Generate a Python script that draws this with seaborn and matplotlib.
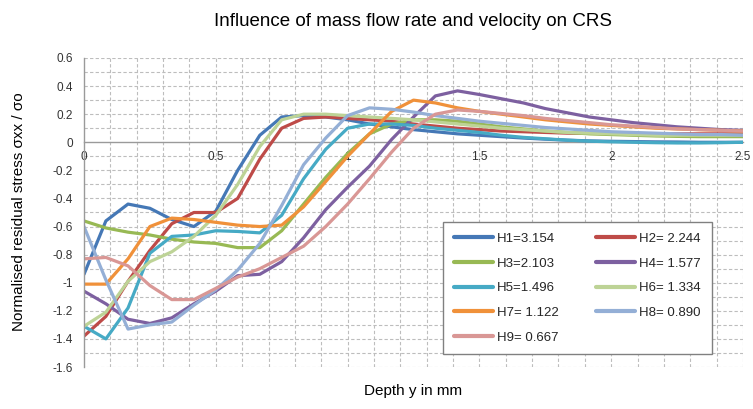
import matplotlib
matplotlib.use("Agg")
import matplotlib.pyplot as plt
import seaborn as sns
import pandas as pd
import numpy as np

depth = [0.0, 0.083, 0.167, 0.25, 0.333, 0.417, 0.5, 0.583, 0.667, 0.75,
         0.833, 0.917, 1.0, 1.083, 1.167, 1.25, 1.333, 1.417, 1.5, 1.583,
         1.667, 1.75, 1.833, 1.917, 2.0, 2.083, 2.167, 2.25, 2.333, 2.417, 2.5]

H1 = [-0.94, -0.56, -0.44, -0.47, -0.55, -0.60, -0.49, -0.20, 0.05, 0.18,
      0.19, 0.18, 0.16, 0.13, 0.11, 0.09, 0.075, 0.06, 0.05, 0.04,
      0.03, 0.022, 0.015, 0.01, 0.007, 0.005, 0.003, 0.002, 0.0, 0.0, 0.0]
H2 = [-1.38, -1.24, -0.99, -0.77, -0.58, -0.50, -0.50, -0.40, -0.12, 0.10,
      0.17, 0.18, 0.17, 0.16, 0.15, 0.13, 0.115, 0.10, 0.09, 0.08,
      0.075, 0.07, 0.065, 0.063, 0.062, 0.061, 0.06, 0.06, 0.06, 0.06, 0.06]
H3 = [-0.56, -0.61, -0.64, -0.66, -0.69, -0.71, -0.72, -0.75, -0.75, -0.63,
      -0.44, -0.25, -0.08, 0.06, 0.13, 0.16, 0.16, 0.15, 0.13, 0.11,
      0.095, 0.08, 0.07, 0.06, 0.055, 0.05, 0.045, 0.042, 0.04, 0.04, 0.04]
H4 = [-1.06, -1.15, -1.26, -1.29, -1.25, -1.15, -1.06, -0.95, -0.94, -0.85,
      -0.68, -0.48, -0.32, -0.17, 0.02, 0.18, 0.33, 0.366, 0.34, 0.31,
      0.28, 0.24, 0.21, 0.18, 0.16, 0.14, 0.125, 0.11, 0.10, 0.09, 0.085]
H5 = [-1.31, -1.40, -1.18, -0.79, -0.67, -0.66, -0.63, -0.635, -0.645, -0.52,
      -0.26, -0.05, 0.10, 0.13, 0.13, 0.12, 0.10, 0.085, 0.07, 0.05,
      0.035, 0.025, 0.015, 0.008, 0.003, 0.0, -0.003, -0.005, -0.005, -0.003, 0.0]
H6 = [-1.31, -1.21, -0.99, -0.85, -0.78, -0.67, -0.52, -0.30, -0.03, 0.16,
      0.20, 0.20, 0.19, 0.18, 0.17, 0.16, 0.145, 0.13, 0.115, 0.10,
      0.09, 0.08, 0.07, 0.065, 0.06, 0.055, 0.05, 0.05, 0.05, 0.05, 0.05]
H7 = [-1.01, -1.01, -0.83, -0.60, -0.54, -0.55, -0.57, -0.59, -0.60, -0.59,
      -0.46, -0.28, -0.10, 0.06, 0.22, 0.30, 0.28, 0.245, 0.22, 0.20,
      0.18, 0.16, 0.145, 0.13, 0.12, 0.11, 0.10, 0.095, 0.09, 0.085, 0.08]
H8 = [-0.60, -0.98, -1.33, -1.30, -1.28, -1.16, -1.05, -0.91, -0.72, -0.45,
      -0.16, 0.03, 0.19, 0.245, 0.235, 0.215, 0.19, 0.17, 0.15, 0.135,
      0.12, 0.105, 0.095, 0.085, 0.075, 0.07, 0.065, 0.06, 0.055, 0.055, 0.05]
H9 = [-0.83, -0.82, -0.88, -1.02, -1.12, -1.12, -1.04, -0.96, -0.90, -0.82,
      -0.74, -0.60, -0.44, -0.26, -0.07, 0.10, 0.20, 0.23, 0.22, 0.205,
      0.19, 0.17, 0.155, 0.14, 0.125, 0.115, 0.105, 0.095, 0.09, 0.085, 0.08]

labels = ["H1=3.154", "H2= 2.244", "H3=2.103", "H4= 1.577", "H5=1.496",
          "H6= 1.334", "H7= 1.122", "H8= 0.890", "H9= 0.667"]
colors = ["#4578B6", "#BE4B48", "#98B954", "#7D60A0", "#46AAC5",
          "#BDD396", "#F0913A", "#94AFD6", "#D99795"]
series = [H1, H2, H3, H4, H5, H6, H7, H8, H9]

x_ticks = [0, 0.5, 1, 1.5, 2, 2.5]
x_tick_labels = ["0", "0.5", "1", "1.5", "2", "2.5"]
y_ticks = [0.6, 0.4, 0.2, 0, -0.2, -0.4, -0.6, -0.8, -1, -1.2, -1.4, -1.6]
y_tick_labels = ["0.6", "0.4", "0.2", "0", "-0.2", "-0.4", "-0.6", "-0.8",
                 "-1", "-1.2", "-1.4", "-1.6"]

rows = []
for lab, vals in zip(labels, series):
    for d, v in zip(depth, vals):
        rows.append({"depth": d, "stress": v, "series": lab})
df = pd.DataFrame(rows)

sns.set_style("white")
plt.rcParams["font.family"] = ["Liberation Sans", "DejaVu Sans"]

fig = plt.figure(figsize=(7.53, 4.09), dpi=100)
ax = fig.add_axes([84 / 753, 1 - 367 / 409, 659 / 753, 309 / 409])

sns.lineplot(data=df, x="depth", y="stress", hue="series", hue_order=labels,
             palette=colors, linewidth=2.3, ax=ax, legend=False, sort=False)

ax.set_xlim(0, 2.5)
ax.set_ylim(-1.6, 0.6)

# grid
grid_kw = dict(color="#BDBDBD", linewidth=0.8, linestyle=(0, (3, 2)), zorder=0)
for gx in np.arange(0.1, 2.51, 0.1):
    ax.axvline(gx, **grid_kw)
for gy in np.arange(-1.6, 0.61, 0.1):
    if abs(gy) > 1e-6:
        ax.axhline(gy, **grid_kw)

for s in ["top", "right"]:
    ax.spines[s].set_visible(False)
ax.spines["bottom"].set_position(("data", 0))
ax.spines["bottom"].set_color("#9A9A9A")
ax.spines["left"].set_color("#9A9A9A")
ax.spines["bottom"].set_linewidth(1.0)
ax.spines["left"].set_linewidth(1.0)
ax.spines["bottom"].set_zorder(1)

ax.set_xticks(x_ticks)
ax.set_xticklabels(x_tick_labels)
ax.set_yticks(y_ticks)
ax.set_yticklabels(y_tick_labels)
ax.tick_params(axis="both", length=0, labelsize=8.5, labelcolor="#333333")
ax.tick_params(axis="x", pad=6)
ax.tick_params(axis="y", pad=8)

ax.set_xlabel("")
ax.set_ylabel("")
fig.text(413 / 753, 1 - 391 / 409, "Depth y in mm", ha="center", va="center",
         fontsize=11, color="#000000")
fig.text(19 / 753, 1 - 212 / 409, "Normalised residual stress \u03c3xx / \u03c3o",
         ha="center", va="center", rotation=90, fontsize=11, color="#000000")
fig.text(413 / 753, 1 - 21 / 409, "Influence of mass flow rate and velocity on CRS",
         ha="center", va="center", fontsize=13.5, color="#000000")

lines = ax.get_lines()[:9]
order = [0, 2, 4, 6, 8, 1, 3, 5, 7]
leg = ax.legend([lines[i] for i in order], [labels[i] for i in order],
                ncol=2, loc="upper left", bbox_to_anchor=((443 - 84) / 659, (367 - 222) / 309),
                fontsize=9.5, frameon=True, fancybox=False, framealpha=1,
                edgecolor="#808080", handlelength=3.0, handletextpad=0.3,
                columnspacing=2.8, labelspacing=0.95, borderpad=0.8, borderaxespad=0)
leg.get_frame().set_linewidth(1.0)
for h in leg.get_lines():
    h.set_linewidth(3)

fig.savefig("out.png", dpi=100, facecolor="white")
